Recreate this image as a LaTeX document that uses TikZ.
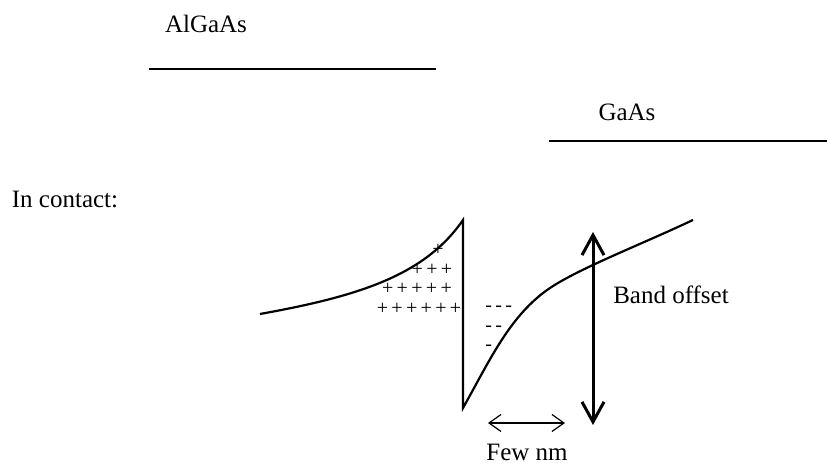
\documentclass[tikz,border=0pt]{standalone}
\usepackage{fontspec}
\setmainfont{Liberation Serif}
\usetikzlibrary{arrows.meta}

\begin{document}
\begin{tikzpicture}[x=0.5pt,y=-0.5pt,>={Straight Barb[length=6pt,width=8.5pt]},
  font=\fontsize{12.5}{15}\selectfont,
  level/.style={line width=1.1pt},
  charge/.style={font=\fontsize{10}{11}\selectfont,inner sep=0pt}]
\useasboundingbox (0,0) rectangle (827,464);
% separate materials
\node (algaas) at (206,24) {AlGaAs};
\draw[level] (149,69) -- (436,69);
\node (gaas) at (627,112) {GaAs};
\draw[level] (549,141) -- (827,141);
\node (contact) at (65,199) {In contact:};
% bent band
\draw[level,line join=miter] (260,314) .. controls (360,296) and (425,275) .. (463,220)
  -- (463,408) .. controls (490,360) and (510,315) .. (550,288)
  .. controls (580,268) and (640,245) .. (693,220);
\node[charge] (plus1) at (438,250) {+};
\node[charge] (plus2) at (432,270) {+\,+\,+};
\node[charge] (plus3) at (417,289) {+\,+\,+\,+\,+};
\node[charge] (plus4) at (419,309) {+\,+\,+\,+\,+\,+};
\node[charge,anchor=west] (minus1) at (485,309) {-\,-\,-};
\node[charge,anchor=west] (minus2) at (485,329) {-\,-};
\node[charge,anchor=west] (minus3) at (485,348) {-};
% band offset
\coordinate (offtop) at (593,232);
\coordinate (offbot) at (593,425);
\draw[<->,line width=1.5pt,>={Straight Barb[length=10pt,width=11pt]}] (offtop) -- (offbot);
\node (offset) at (671,295) {Band offset};
% width
\coordinate (wl) at (488,423);
\coordinate (wr) at (565,423);
\draw[<->,line width=0.6pt] (wl) -- (wr);
\node (few) at (527,452) {Few nm};
\end{tikzpicture}
\end{document}
